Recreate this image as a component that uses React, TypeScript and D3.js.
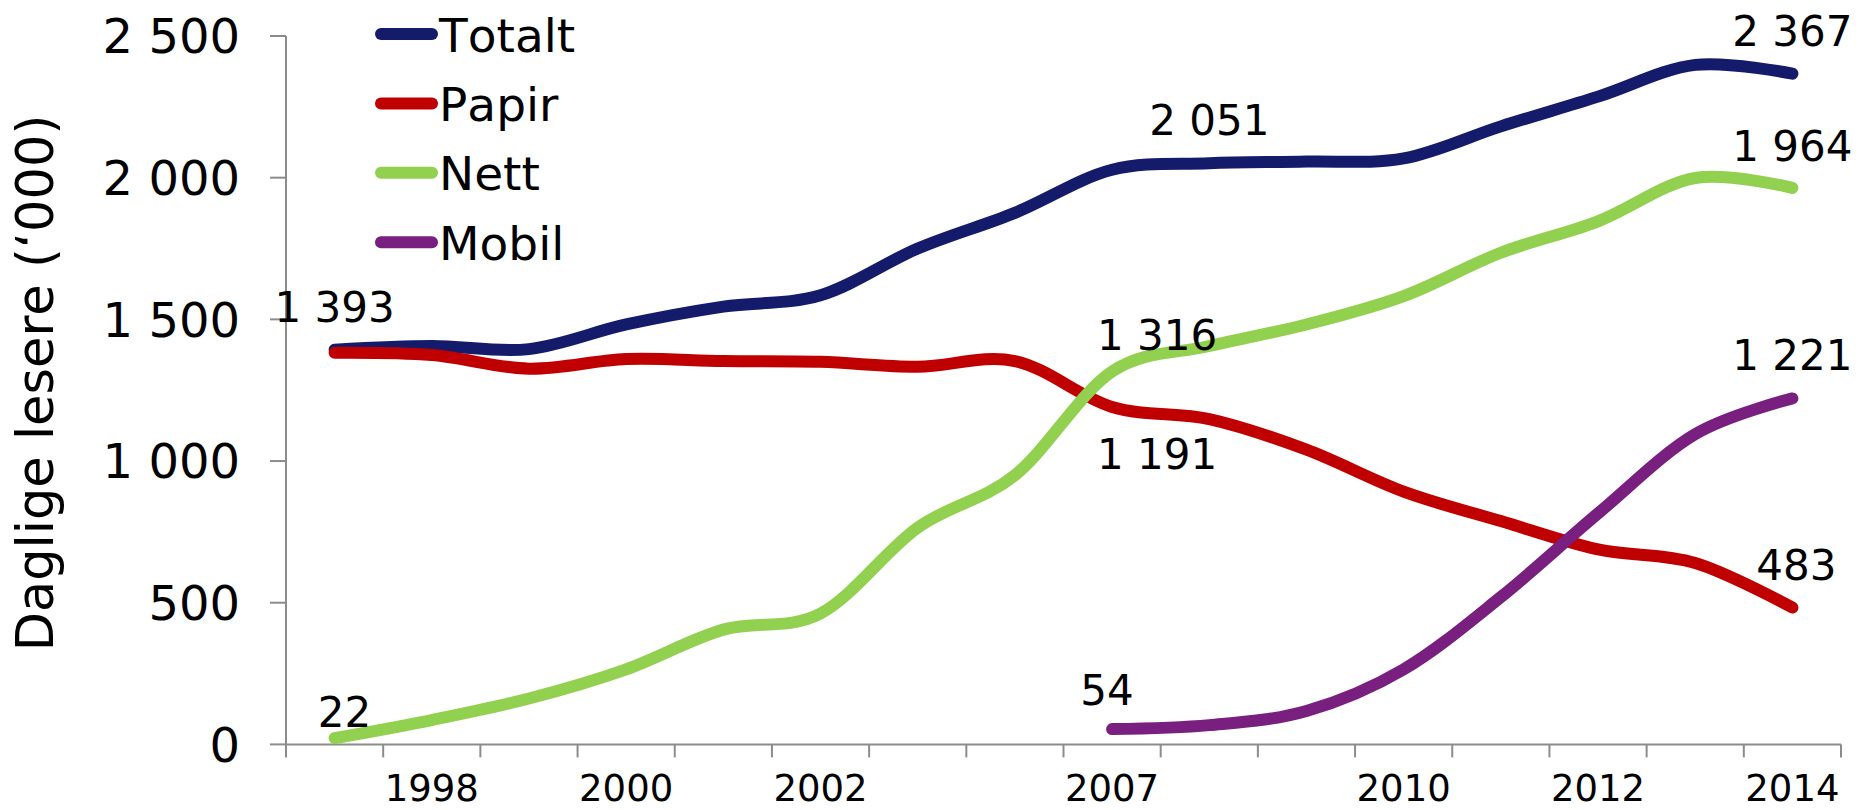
import React from "react";
import * as d3 from "d3";

// ---- data ----
const categories = [
  "1997", "1998", "1999", "2000", "2001", "2002", "2003", "2005",
  "2007", "2008", "2009", "2010", "2011", "2012", "2013", "2014",
];
const tickLabels = [
  "", "1998", "", "2000", "", "2002", "", "",
  "2007", "", "", "2010", "", "2012", "", "2014",
];
const totalt = [1393, 1406, 1395, 1482, 1545, 1585, 1750, 1876, 2028, 2051, 2057, 2068, 2181, 2286, 2398, 2367];
const papir = [1382, 1374, 1326, 1360, 1353, 1350, 1333, 1353, 1191, 1148, 1040, 892, 788, 688, 640, 483];
const nett = [22, 86, 162, 265, 405, 462, 765, 950, 1316, 1406, 1482, 1582, 1735, 1846, 1999, 1964];
const mobil: (number | null)[] = [null, null, null, null, null, null, null, null, 54, 68, 118, 265, 520, 815, 1095, 1221];
const yTicks = [0, 500, 1000, 1500, 2000, 2500];

const seriesNames = ["Totalt", "Papir", "Nett", "Mobil"];
const seriesColors = ["#151B6B", "#C00000", "#92D050", "#781F80"];
const seriesValues = [totalt, papir, nett, mobil];

// data labels: [series index, category index, dx, dy]
const dataLabels: [number, number, number, number][] = [
  [0, 0, 0, -28],
  [2, 0, 10, -11],
  [0, 9, 0, -28],
  [2, 8, 45, -21],
  [1, 8, 45, 62],
  [3, 8, -5, -24],
  [0, 15, 0, -28],
  [2, 15, 0, -27],
  [3, 15, 0, -28],
  [1, 15, 4, -28],
];

const W = 1858;
const H = 810;
const FONT = "'DejaVu Sans', Verdana, sans-serif";

const locale = d3.formatLocale({ decimal: ",", thousands: " ", grouping: [3], currency: ["", " kr"] });
const fmt = locale.format(",d");

export default function App() {
  const x = d3.scaleBand<number>().domain(categories.map((_, i) => i)).range([286, 1841]).paddingInner(0).paddingOuter(0);
  const y = d3.scaleLinear().domain([0, 2500]).range([744.4, 36]);
  const cx = (i: number) => (x(i) as number) + x.bandwidth() / 2;

  const line = d3
    .line<number | null>()
    .defined((d) => d !== null)
    .x((_, i) => cx(i))
    .y((d) => y(d as number))
    .curve(d3.curveCatmullRom.alpha(0));

  const boundaries = d3.range(categories.length + 1).map((k) => 286 + k * x.bandwidth());

  return (
    <svg
      width={W}
      height={H}
      style={{ position: "absolute", left: 0, top: 0, background: "#fff", fontKerning: "none" }}
      fontFamily={FONT}
    >
      <rect x={0} y={0} width={W} height={H} fill="#fff" />
      {/* y axis */}
      <line x1={286} x2={286} y1={y(2500)} y2={y(0)} stroke="#8c8c8c" strokeWidth={2} />
      {yTicks.map((t) => (
        <g key={t}>
          <line x1={270} x2={286} y1={y(t)} y2={y(t)} stroke="#8c8c8c" strokeWidth={2} />
          <text x={240} y={y(t)} dy="0.36em" textAnchor="end" fontSize={48} fill="#000">
            {fmt(t)}
          </text>
        </g>
      ))}
      {/* x axis */}
      <line x1={286} x2={1841} y1={y(0)} y2={y(0)} stroke="#8c8c8c" strokeWidth={2} />
      {boundaries.map((b, k) => (
        <line key={k} x1={b} x2={b} y1={y(0)} y2={y(0) + 13} stroke="#8c8c8c" strokeWidth={2} />
      ))}
      {tickLabels.map((l, i) =>
        l ? (
          <text key={i} x={cx(i)} y={801} textAnchor="middle" fontSize={37} fill="#000">
            {l}
          </text>
        ) : null
      )}
      {/* y title */}
      <text transform={`translate(53,383) rotate(-90)`} textAnchor="middle" fontSize={51} fill="#000">
        Daglige lesere (‘000)
      </text>
      {/* lines */}
      {seriesValues.map((vals, s) => (
        <path
          key={s}
          d={line(vals) || ""}
          fill="none"
          stroke={seriesColors[s]}
          strokeWidth={12}
          strokeLinecap="round"
          strokeLinejoin="round"
        />
      ))}
      {/* data labels */}
      {dataLabels.map(([s, i, dx, dy], k) => {
        const v = seriesValues[s][i] as number;
        return (
          <text key={k} x={cx(i) + dx} y={y(v) + dy} textAnchor="middle" fontSize={42} fill="#000">
            {fmt(v)}
          </text>
        );
      })}
      {/* legend */}
      {seriesNames.map((n, s) => {
        const ly = 34 + s * 69.4;
        return (
          <g key={n}>
            <line x1={381} x2={432} y1={ly} y2={ly} stroke={seriesColors[s]} strokeWidth={12} strokeLinecap="round" />
            <text x={439} y={ly + 17.5} fontSize={47} fill="#000">
              {n}
            </text>
          </g>
        );
      })}
    </svg>
  );
}
